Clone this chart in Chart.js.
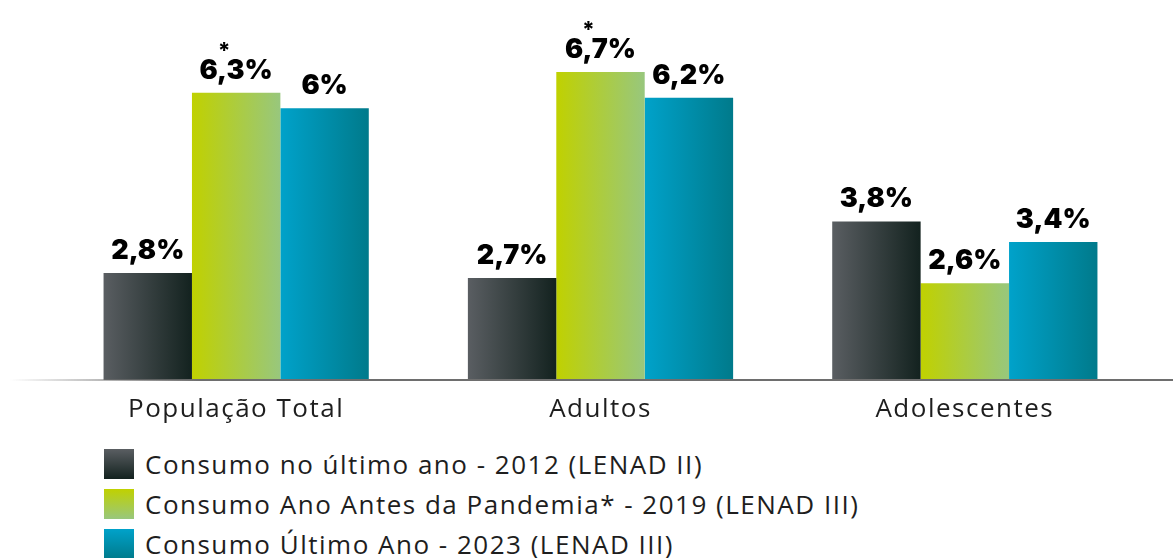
<!DOCTYPE html>
<html>
<head>
<meta charset="utf-8">
<script src="https://cdn.jsdelivr.net/npm/chart.js@4.4.1/dist/chart.umd.min.js"></script>
<style>
  html, body { margin: 0; padding: 0; background: #fff; }
  #wrap { width: 1173px; height: 558px; position: relative; overflow: hidden; }
  #chartBox { position: absolute; left: 0; top: 0; width: 1173px; height: 430px; }
  #legend { position: absolute; left: 104px; top: 449px; font-family: "Open Sans", sans-serif; font-size: 26px; letter-spacing: 1.5px; color: #1e1e1e; }
  .item { display: flex; align-items: center; height: 30px; margin-bottom: 10px; white-space: nowrap; }
  .sw { width: 30px; height: 30px; margin-right: 11px; }
</style>
</head>
<body>
<div id="wrap">
  <div id="chartBox"><canvas id="chart"></canvas></div>
  <div id="legend"></div>
</div>
<script>
const categories = ['População Total', 'Adultos', 'Adolescentes'];
const seriesNames = [
  'Consumo no último ano - 2012 (LENAD II)',
  'Consumo Ano Antes da Pandemia* - 2019 (LENAD III)',
  'Consumo Último Ano - 2023 (LENAD III)'
];
const consumo2012 = [2.8, 2.7, 3.8];
const consumo2019 = [6.3, 6.7, 2.6];
const consumo2023 = [6, 6.2, 3.4];
const asterisco2019 = [true, true, false];

// cores do gradiente (esquerda -> direita)
const cores = [
  ['#5a5e62', '#13221f'],
  ['#c0d100', '#98c77d'],
  ['#00a2ca', '#007a8b']
];
const catPct = 0.728;

const legend = document.getElementById('legend');
seriesNames.forEach((nome, i) => {
  let d = document.createElement('div');
  d.className = 'item';
  d.innerHTML = '<div class="sw" style="background:linear-gradient(to bottom,' + cores[i][0] + ',' + cores[i][1] + ')"></div><span>' + nome + '</span>';
  legend.appendChild(d);
});

function fmt(v) {
  return String(v).replace('.', ',') + '%';
}

function barGradient(c) {
  const chart = c.chart;
  const x = chart.scales.x;
  if (!x || !chart.chartArea) return cores[c.datasetIndex][0];
  const catW = x.width / chart.data.labels.length;
  const barW = catW * catPct / chart.data.datasets.length;
  const left = x.getPixelForValue(c.dataIndex) - catW * catPct / 2 + c.datasetIndex * barW;
  const g = chart.ctx.createLinearGradient(left, 0, left + barW, 0);
  g.addColorStop(0, cores[c.datasetIndex][0]);
  g.addColorStop(1, cores[c.datasetIndex][1]);
  return g;
}

const extras = {
  id: 'extras',
  beforeDraw(chart) {
    chart.ctx.letterSpacing = '1.5px';
  },
  beforeDatasetsDraw(chart) {
    chart.ctx.letterSpacing = '0px';
  },
  afterDatasetsDraw(chart) {
    const ctx = chart.ctx;
    const y = chart.chartArea.bottom;
    // linha de base
    let g = ctx.createLinearGradient(10, 0, 200, 0);
    g.addColorStop(0, 'rgba(110,110,110,0)');
    g.addColorStop(1, 'rgba(110,110,110,1)');
    ctx.save();
    ctx.strokeStyle = g;
    ctx.lineWidth = 2;
    ctx.beginPath();
    ctx.moveTo(10, y);
    ctx.lineTo(chart.width, y);
    ctx.stroke();
    // valores
    ctx.fillStyle = '#000';
    ctx.textAlign = 'center';
    ctx.textBaseline = 'alphabetic';
    chart.data.datasets.forEach((ds, i) => {
      chart.getDatasetMeta(i).data.forEach((bar, j) => {
        ctx.font = '900 27px Inter';
        ctx.fillText(fmt(ds.data[j]), bar.x, bar.y - 14);
        if (i === 1 && asterisco2019[j]) {
          ctx.font = '800 22px Inter';
          ctx.fillText('*', bar.x - 12, bar.y - 35);
        }
      });
    });
    ctx.restore();
  }
};

new Chart(document.getElementById('chart'), {
  type: 'bar',
  data: {
    labels: categories,
    datasets: [
      { label: seriesNames[0], data: consumo2012, backgroundColor: barGradient },
      { label: seriesNames[1], data: consumo2019, backgroundColor: barGradient },
      { label: seriesNames[2], data: consumo2023, backgroundColor: barGradient }
    ]
  },
  options: {
    responsive: true,
    maintainAspectRatio: false,
    animation: false,
    categoryPercentage: catPct,
    barPercentage: 1,
    layout: { padding: { left: 54, right: 26, top: 0, bottom: 0 } },
    plugins: { legend: { display: false }, tooltip: { enabled: false } },
    scales: {
      y: { display: false, min: 0.72, max: 8.1 },
      x: {
        grid: { display: false },
        border: { display: false },
        ticks: { color: '#1e1e1e', padding: 6, font: { family: 'Open Sans', size: 26 } },
        afterFit: s => { s.height = 50; }
      }
    }
  },
  plugins: [extras]
});
</script>
</body>
</html>
